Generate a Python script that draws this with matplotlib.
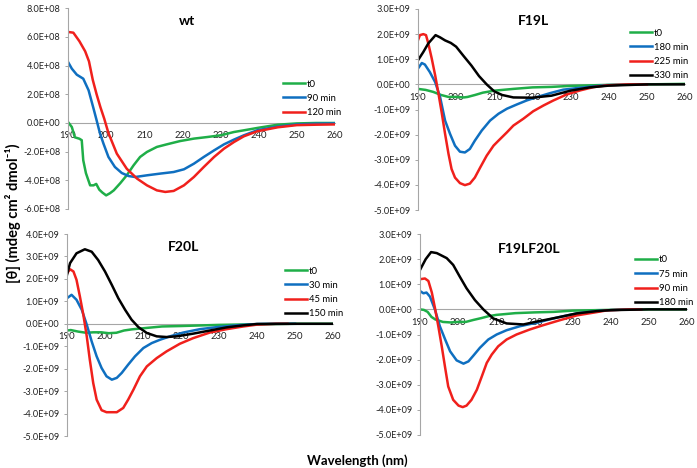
import matplotlib
matplotlib.use("Agg")
import matplotlib.pyplot as plt

plt.rcParams["font.family"] = ["Lato", "DejaVu Sans"]

W, H = 697, 468

GREEN = "#1fae48"
BLUE = "#0f6fc0"
RED = "#f0201c"
BLACK = "#000000"
AXIS = "#a6a6a6"

# ---- wt (values x1e8) ----
wt_t0_wl = [190, 191, 191.8, 193, 193.6, 194, 194.7, 195.8, 196.7, 197.4, 198.2, 199, 200,
            201, 202, 203.7, 205.4, 207.2, 208.9, 210.7, 213.3, 215.9, 219.4, 223, 226.5,
            230, 233.5, 237, 240, 245, 250, 255, 260]
wt_t0 = [0.07, -0.28, -1.0, -1.1, -1.2, -2.6, -3.5, -4.35, -4.35, -4.25, -4.65, -4.85, -5.05,
         -4.9, -4.7, -4.2, -3.65, -2.95, -2.37, -2.02, -1.67, -1.49, -1.26, -1.09, -0.98,
         -0.86, -0.63, -0.47, -0.33, -0.12, -0.03, 0.0, 0.0]
wt_90_wl = [190, 191, 192.3, 194, 195.4, 196.7, 197.5, 198.4, 199.3, 200.6, 202.3, 204.1,
            205.9, 207.6, 210.7, 214.2, 217.7, 220.4, 223, 225.6, 228.3, 230.9, 233.5,
            236.1, 239.6, 245, 250, 255, 260]
wt_90 = [4.26, 3.79, 3.37, 3.09, 2.28, 1.0, 0.19, -0.74, -1.44, -2.37, -3.07, -3.49,
         -3.70, -3.77, -3.65, -3.53, -3.42, -3.23, -2.84, -2.37, -1.91, -1.49, -1.16,
         -0.86, -0.51, -0.25, -0.1, -0.05, -0.03]
wt_120_wl = [190, 191.4, 193, 194.5, 195.5, 196.5, 197.5, 198.5, 199.5, 200.6, 202.8, 205.4,
             208.1, 210.7, 213.3, 215.5, 217.7, 220.4, 223, 225.6, 228.3, 230.9, 233.5,
             236.1, 239.6, 245, 250, 255, 260]
wt_120 = [6.35, 6.3, 5.7, 5.0, 4.3, 3.0, 2.0, 1.1, 0.3, -0.7, -2.14, -3.19,
          -3.88, -4.35, -4.70, -4.81, -4.74, -4.35, -3.77, -3.07, -2.37, -1.79, -1.33,
          -0.93, -0.58, -0.3, -0.15, -0.12, -0.1]

# ---- F19L (values x1e9) ----
f19_t0_wl = [190, 192, 194, 196, 198, 200, 202, 203, 205, 207, 210, 215, 220, 225, 230, 240, 250, 260]
f19_t0 = [-0.18, -0.22, -0.3, -0.42, -0.5, -0.5, -0.52, -0.5, -0.42, -0.33, -0.25, -0.18,
          -0.12, -0.1, -0.06, -0.02, 0.0, 0.02]
f19_180_wl = [190, 191, 191.8, 193.1, 194.5, 195.8, 197.1, 198.4, 199.7, 201, 202.3, 203.6,
              204.9, 206.7, 208.9, 211.1, 213.3, 215.9, 218.5, 221.1, 224.6, 228.1, 231.6,
              236, 239.5, 245, 250]
f19_180 = [0.63, 0.85, 0.79, 0.49, 0.09, -0.51, -1.44, -1.97, -2.44, -2.68, -2.71, -2.57,
           -2.24, -1.84, -1.44, -1.17, -0.97, -0.80, -0.64, -0.51, -0.35, -0.21, -0.15,
           -0.08, -0.03, -0.01, 0.0]
f19_225_wl = [190, 190.5, 191.4, 192.1, 192.7, 193.6, 194.5, 195.3, 196.2, 197.1, 198, 198.8,
              199.7, 201, 202.3, 203.6, 204.9, 206.3, 208, 209.8, 211.1, 213.3, 215, 217.6,
              220.2, 222.9, 225.5, 229, 232.5, 236, 239.5, 245, 250]
f19_225 = [1.76, 1.96, 2.0, 1.96, 1.63, 1.03, 0.36, -0.31, -1.11, -1.97, -2.77, -3.37,
           -3.71, -3.93, -4.01, -3.95, -3.71, -3.31, -2.84, -2.44, -2.24, -1.91, -1.64, -1.37,
           -1.07, -0.84, -0.64, -0.40, -0.24, -0.11, -0.04, 0.0, 0.0]
f19_330_wl = [190, 191.4, 192.7, 194.6, 195.8, 197.1, 198.6, 200, 202, 204, 206, 208, 210,
              212, 215, 220, 225, 230, 235, 240, 250, 260]
f19_330 = [0.96, 1.29, 1.63, 1.96, 1.87, 1.75, 1.65, 1.5, 1.12, 0.75, 0.33, 0.0, -0.28,
           -0.42, -0.52, -0.53, -0.45, -0.25, -0.12, -0.05, 0.0, 0.0]

# ---- F20L (values x1e9) ----
f20_t0_wl = [190, 191, 193, 195, 197, 199, 201, 203, 205, 207, 210, 215, 220, 230, 240, 250, 260]
f20_t0 = [-0.3, -0.28, -0.35, -0.4, -0.38, -0.38, -0.42, -0.4, -0.3, -0.25, -0.2, -0.12,
          -0.1, -0.05, -0.02, 0.0, 0.0]
f20_30_wl = [190, 191.2, 192.5, 193.9, 195.2, 196.5, 197.8, 199.1, 200.4, 201.8, 203.1, 204.4,
             206.1, 207.9, 210.1, 212.3, 214.5, 217.1, 220.6, 225, 229.4, 234.6, 239.9, 245, 250]
f20_30 = [1.14, 1.29, 1.07, 0.62, -0.04, -0.79, -1.45, -1.97, -2.34, -2.49, -2.41, -2.19,
          -1.82, -1.45, -1.08, -0.86, -0.71, -0.56, -0.39, -0.24, -0.15, -0.07, -0.01, 0.0, 0.0]
f20_45_wl = [190, 190.8, 191.7, 192.5, 193.4, 194.3, 195.2, 196, 196.9, 197.8, 199.1, 200.4,
             203.1, 204.8, 206.1, 207.5, 209.2, 211, 213.6, 216.2, 219.7, 223.2, 227.6, 232,
             236.4, 239.9, 245, 248]
f20_45 = [2.25, 2.43, 2.33, 1.96, 1.21, 0.4, -0.56, -1.6, -2.64, -3.38, -3.85, -3.94,
          -3.94, -3.75, -3.38, -2.93, -2.34, -1.9, -1.53, -1.23, -0.89, -0.64, -0.39, -0.24,
          -0.12, -0.04, 0.0, 0.0]
f20_150_wl = [190, 190.8, 192.5, 194.7, 196.5, 198.2, 200, 201.8, 203.5, 205.3, 207, 208.8,
              211, 213.6, 216.2, 218.9, 223.2, 227.6, 232, 236.4, 240, 250, 260]
f20_150 = [2.18, 2.7, 3.14, 3.32, 3.21, 2.84, 2.33, 1.73, 1.14, 0.62, 0.18, -0.15,
           -0.41, -0.56, -0.59, -0.56, -0.44, -0.3, -0.16, -0.07, -0.01, 0.0, 0.0]

# ---- F19LF20L (values x1e9) ----
dbl_t0_wl = [190, 191, 192, 193, 194, 196, 198, 200, 202, 204, 206, 208, 210, 215, 220, 225,
             230, 240, 250, 260]
dbl_t0 = [0.0, -0.02, -0.1, -0.3, -0.4, -0.5, -0.52, -0.5, -0.5, -0.42, -0.35, -0.27, -0.22,
          -0.15, -0.12, -0.1, -0.05, -0.02, 0.0, 0.0]
dbl_75_wl = [190, 190.9, 191.7, 192.6, 193.9, 195.2, 196.6, 197.9, 199.6, 201.4, 202.7, 204,
             205.7, 207.9, 210.1, 212.7, 216.2, 220.6, 225.8, 231.1, 236.3, 240, 245, 248]
dbl_75 = [0.73, 0.64, 0.67, 0.51, 0.0, -0.67, -1.2, -1.67, -2.03, -2.16, -2.07, -1.84,
          -1.53, -1.2, -1.0, -0.83, -0.67, -0.53, -0.33, -0.16, -0.07, -0.03, 0.0, 0.0]
dbl_90_wl = [190, 191.3, 192.2, 193.1, 193.9, 194.8, 195.7, 196.6, 197.4, 198.7, 200.1, 201.2,
             202.2, 203.5, 204.9, 206.2, 207.5, 208.8, 210.5, 212.7, 215.3, 218.8, 222.3,
             226.7, 231.1, 235.5, 239, 245, 248]
dbl_90 = [1.2, 1.23, 1.13, 0.67, 0.07, -0.67, -1.47, -2.33, -3.07, -3.6, -3.83, -3.89,
          -3.83, -3.6, -3.2, -2.67, -2.13, -1.8, -1.47, -1.2, -1.0, -0.8, -0.63,
          -0.43, -0.24, -0.13, -0.04, 0.0, 0.0]
dbl_180_wl = [190, 191.5, 192.9, 194.4, 197, 198.7, 200.4, 202.2, 204.4, 206.6, 209.2, 212.7,
              217.1, 220.5, 225.8, 231.1, 236.3, 240, 250, 260]
dbl_180 = [1.57, 2.0, 2.28, 2.24, 2.04, 1.77, 1.31, 0.84, 0.37, 0.0, -0.36, -0.56,
           -0.6, -0.49, -0.33, -0.16, -0.07, -0.03, 0.0, 0.0]

x_ticks = [190, 200, 210, 220, 230, 240, 250, 260]


def px_rect(left, right, top, bottom):
    return [left / W, 1 - bottom / H, (right - left) / W, (bottom - top) / H]


def draw_panel(fig, rect, ylim, ystep, scale, series, title, title_xy, leg_xy):
    ax = fig.add_axes(rect)
    for wl, vals, color, label in series:
        ax.plot(wl, [v * scale for v in vals], color=color, lw=1.8, label=label,
                solid_joinstyle="round")
    ax.set_xlim(190, 260)
    ax.set_ylim(ylim[0] * scale, ylim[1] * scale)
    n = int(round((ylim[1] - ylim[0]) / ystep))
    yt = [(ylim[0] + i * ystep) * scale for i in range(n + 1)]
    ax.set_yticks(yt)
    ax.set_yticklabels([f"{v:.1E}" for v in yt])
    ax.set_xticks(x_ticks)
    ax.set_xticklabels([str(t) for t in x_ticks])

    for s in ["top", "right"]:
        ax.spines[s].set_visible(False)
    ax.spines["bottom"].set_position(("data", 0))
    for s in ["left", "bottom"]:
        ax.spines[s].set_color(AXIS)
        ax.spines[s].set_linewidth(0.8)
    ax.spines["bottom"].set_zorder(0.5)
    ax.tick_params(axis="y", direction="out", length=2.5, width=0.7, color=AXIS,
                   labelsize=6.6, pad=3, labelcolor="#222222")
    ax.tick_params(axis="x", length=0, labelsize=6.8, pad=6, labelcolor="#222222")
    ax.patch.set_alpha(0)

    ax.text(title_xy[0], title_xy[1], title, transform=ax.transAxes, ha="center",
            va="center", fontsize=10, fontweight="bold")
    ax.legend(loc="upper left", bbox_to_anchor=(leg_xy[0] / W, 1 - leg_xy[1] / H),
              bbox_transform=fig.transFigure, frameon=False, fontsize=6.8,
              handlelength=2.3, handletextpad=0.25, labelspacing=0.55,
              borderpad=0, borderaxespad=0)
    return ax


fig = plt.figure(figsize=(W / 100, H / 100), dpi=100)

draw_panel(fig, px_rect(68, 335, 8.3, 209), (-6, 8), 2, 1e8,
           [(wt_t0_wl, wt_t0, GREEN, "t0"),
            (wt_90_wl, wt_90, BLUE, "90 min"),
            (wt_120_wl, wt_120, RED, "120 min")],
           "wt", (0.446, 0.937), (283, 79.5))

draw_panel(fig, px_rect(418, 685, 9, 210), (-5, 3), 1, 1e9,
           [(f19_t0_wl, f19_t0, GREEN, "t0"),
            (f19_180_wl, f19_180, BLUE, "180 min"),
            (f19_225_wl, f19_225, RED, "225 min"),
            (f19_330_wl, f19_330, BLACK, "330 min")],
           "F19L", (0.434, 0.94), (630, 28.5))

draw_panel(fig, px_rect(67, 333, 234, 436), (-5, 4), 1, 1e9,
           [(f20_t0_wl, f20_t0, GREEN, "t0"),
            (f20_30_wl, f20_30, BLUE, "30 min"),
            (f20_45_wl, f20_45, RED, "45 min"),
            (f20_150_wl, f20_150, BLACK, "150 min")],
           "F20L", (0.44, 0.935), (285, 266.5))

draw_panel(fig, px_rect(420, 687, 234, 435), (-5, 3), 1, 1e9,
           [(dbl_t0_wl, dbl_t0, GREEN, "t0"),
            (dbl_75_wl, dbl_75, BLUE, "75 min"),
            (dbl_90_wl, dbl_90, RED, "90 min"),
            (dbl_180_wl, dbl_180, BLACK, "180 min")],
           "F19LF20L", (0.41, 0.925), (635, 255.5))

fig.text(13 / W, 1 - 213 / H, "[θ] (mdeg cm² dmol⁻¹)", rotation=90, ha="center",
         va="center", fontsize=10.5, fontweight="bold")
fig.text(357 / W, 1 - 461 / H, "Wavelength (nm)", ha="center", va="center",
         fontsize=9.5, fontweight="bold")

fig.savefig("out.png", dpi=100)
